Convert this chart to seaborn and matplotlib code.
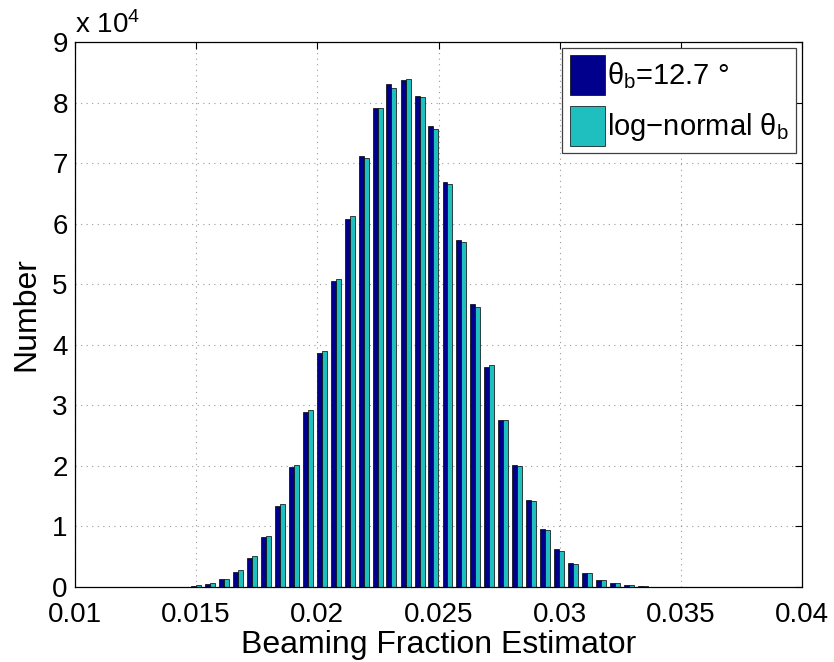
import pandas as pd
import numpy as np
import seaborn as sn
import matplotlib.pyplot as plt
from matplotlib.ticker import FuncFormatter

# bin centres of the histogram (Beaming Fraction Estimator)
centers = [0.01385, 0.01442, 0.01500, 0.01557, 0.01615, 0.01673, 0.01730, 0.01788,
           0.01846, 0.01903, 0.01961, 0.02018, 0.02076, 0.02134, 0.02191, 0.02249,
           0.02306, 0.02364, 0.02422, 0.02479, 0.02537, 0.02594, 0.02652, 0.02710,
           0.02767, 0.02825, 0.02882, 0.02940, 0.02998, 0.03055, 0.03113, 0.03170,
           0.03228, 0.03286, 0.03343, 0.03401, 0.03458]

# counts for fixed theta_b = 12.7 deg
fixed_counts = [30, 60, 200, 550, 1300, 2500, 4800, 8200,
                13300, 19800, 28900, 38600, 50500, 60800, 71100, 79100,
                83000, 83700, 81100, 76200, 66800, 57300, 46800, 36400,
                27600, 20200, 14300, 9600, 6300, 3900, 2300, 1160,
                700, 300, 120, 50, 20]

# counts for log-normal theta_b
lognorm_counts = [20, 70, 250, 600, 1400, 2800, 5100, 8500,
                  13700, 20200, 29300, 38900, 50900, 61300, 70800, 79100,
                  82400, 83900, 80900, 75700, 66600, 56900, 46300, 36600,
                  27500, 20000, 14200, 9400, 6000, 3750, 2300, 1160,
                  600, 300, 100, 50, 20]

series_names = ['$\\theta_b$=12.7 °', 'log\u2212normal $\\theta_b$']
bar_colors = ['#00008C', '#1FBFBF']

df = pd.DataFrame({
    'center': centers * 2,
    'count': fixed_counts + lognorm_counts,
    'series': [series_names[0]] * len(centers) + [series_names[1]] * len(centers),
})

sn.set_style('white')
plt.rcParams['font.family'] = ['Liberation Sans', 'DejaVu Sans']
plt.rcParams['mathtext.fontset'] = 'custom'
plt.rcParams['mathtext.rm'] = 'Liberation Sans'
plt.rcParams['mathtext.it'] = 'Liberation Sans'
plt.rcParams['mathtext.bf'] = 'Liberation Sans:bold'
for k in ['text.color', 'axes.labelcolor', 'xtick.color', 'ytick.color']:
    plt.rcParams[k] = 'black'

fig = plt.figure(figsize=(8.34, 6.62), dpi=100)
ax = fig.add_axes([0.0896, 0.1133, 0.8724, 0.8233])

sn.barplot(data=df, x='center', y='count', hue='series', hue_order=series_names,
           palette=bar_colors, saturation=1, native_scale=True, width=0.72,
           dodge=True, edgecolor='black', linewidth=0.5, errorbar=None, ax=ax)

ax.set_xlim(0.01, 0.04)
ax.set_ylim(0, 90000)
ax.set_xticks([0.01, 0.015, 0.02, 0.025, 0.03, 0.035, 0.04])
ax.set_xticklabels(['0.01', '0.015', '0.02', '0.025', '0.03', '0.035', '0.04'])
ax.set_yticks(np.arange(0, 90001, 10000))
ax.yaxis.set_major_formatter(FuncFormatter(lambda v, p: '%d' % round(v / 1e4)))

ax.grid(True, color='#999999', linestyle=(0, (1, 4)), linewidth=0.8)
ax.set_axisbelow(True)
for s in ax.spines.values():
    s.set_visible(True)
    s.set_color('black')
    s.set_linewidth(0.9)
ax.tick_params(direction='in', length=5, width=0.8, top=True, right=True,
               labelsize=20, colors='black')
ax.tick_params(axis='x', pad=11)
ax.tick_params(axis='y', pad=5)

ax.set_xlabel('Beaming Fraction Estimator', fontsize=23, labelpad=1)
ax.set_ylabel('Number', fontsize=23, labelpad=8)

ax.text(0.0, 1.005, 'x 10$^4$', transform=ax.transAxes, fontsize=20,
        ha='left', va='bottom')

handles, labels = ax.get_legend_handles_labels()
ax.legend(handles, labels, loc='upper right', fontsize=21, frameon=True,
          fancybox=False, framealpha=1, edgecolor='#404040',
          handlelength=1.2, handleheight=1.75, handletextpad=0.1,
          labelspacing=0.35, borderpad=0.25, borderaxespad=0.2)
ax.get_legend().get_frame().set_linewidth(0.9)

plt.savefig('out.png', dpi=100)
plt.close()
